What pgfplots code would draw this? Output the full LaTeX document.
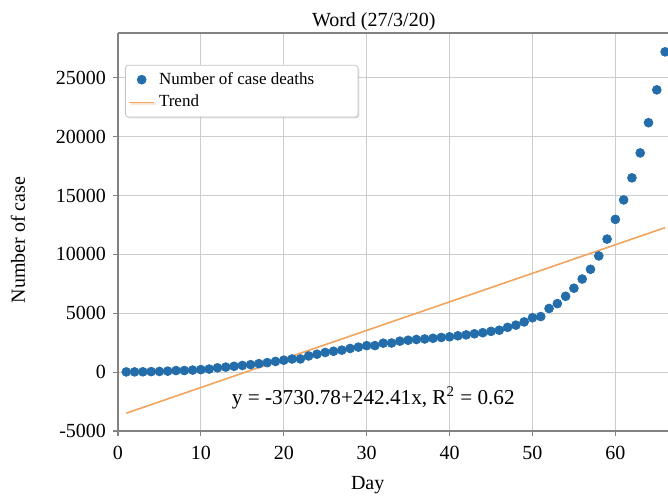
\documentclass[border=0pt]{standalone}
\usepackage{fontspec}
\setmainfont{Liberation Serif}
\usepackage{pgfplots}
\pgfplotsset{compat=1.18}
\usetikzlibrary{shadows}
\definecolor{ptblue}{RGB}{35,110,170}
\definecolor{trend}{RGB}{242,163,92}
\definecolor{gridc}{RGB}{205,205,205}
\definecolor{axc}{RGB}{130,130,130}
\pgfplotsset{shortline legend/.style={legend image code/.code={\draw[##1] (0.08cm,0cm) -- (0.52cm,0cm);}}}
\begin{document}
\begin{tikzpicture}
\begin{axis}[
 name=ax,
 scale only axis, width=275pt, height=199pt,
 xmin=0, xmax=66.35, ymin=-5000, ymax=28800,
 xtick={0,10,...,60}, ytick={-5000,0,...,25000},
 scaled y ticks=false,
 /pgf/number format/1000 sep={},
 /pgf/number format/assume math mode=true,
 grid=major, major grid style={gridc, line width=0.6pt},
 axis lines*=left, axis line style={axc, line width=0.8pt, -},
 tick style={axc, line width=0.6pt}, tick align=outside, major tick length=2.5pt,
 ticklabel style={font=\fontsize{10}{12}\selectfont},
 xticklabel style={yshift=-1.5pt},
 title={Word (27/3/20)},
 title style={at={(axis description cs:0.465,1)}, anchor=center, yshift=-0.5pt, font=\fontsize{10}{12}\selectfont},
 xlabel={Day},
 xlabel style={at={(axis description cs:0.454,0)}, anchor=center, yshift=-27pt, font=\fontsize{10}{12}\selectfont},
 ylabel={Number of case},
 ylabel style={at={(axis description cs:-0.182,0.48)}, anchor=center, font=\fontsize{10}{12}\selectfont},
 legend style={at={(axis description cs:0.0127,0.92)}, anchor=north west, draw=gray!45, rounded corners=1.5pt, fill=white,
   font=\fontsize{8.5}{10}\selectfont, drop shadow={shadow xshift=0.7pt, shadow yshift=-0.7pt, opacity=0.25}, inner sep=1.5pt},
 legend cell align=left,
]
\addplot[only marks, mark=*, mark size=2.2pt, mark options={fill=ptblue, draw=ptblue}] table {
x y
1 17
2 18
3 26
4 42
5 56
6 82
7 131
8 133
9 171
10 213
11 259
12 362
13 426
14 492
15 564
16 634
17 719
18 806
19 906
20 1013
21 1113
22 1118
23 1371
24 1523
25 1666
26 1770
27 1868
28 2007
29 2122
30 2247
31 2251
32 2458
33 2469
34 2629
35 2708
36 2770
37 2814
38 2872
39 2941
40 2996
41 3085
42 3160
43 3254
44 3348
45 3460
46 3558
47 3802
48 3988
49 4262
50 4615
51 4720
52 5404
53 5819
54 6440
55 7126
56 7905
57 8733
58 9867
59 11299
60 12973
61 14623
62 16497
63 18615
64 21181
65 23970
66 27198
};
\addlegendentry{\makebox[96pt][l]{Number of case deaths}}
\addplot[trend, line width=0.8pt, shortline legend] coordinates {(1,-3488.37) (66,12268.28)};
\addlegendentry{Trend}
\node[font=\fontsize{10.6}{12}\selectfont] at (axis cs:30.8,-2200) {y = -3730.78+242.41x, R\textsuperscript{2} = 0.62};
\end{axis}
\draw[axc, line width=0.8pt] (ax.north west) -- (ax.north east);
\path (ax.south west) ++(-59pt,-33pt) coordinate (bl);
\path (ax.north east) ++(0pt,16.5pt) coordinate (tr);
\pgfresetboundingbox
\path[use as bounding box] (bl) rectangle (tr);
\end{tikzpicture}
\end{document}
